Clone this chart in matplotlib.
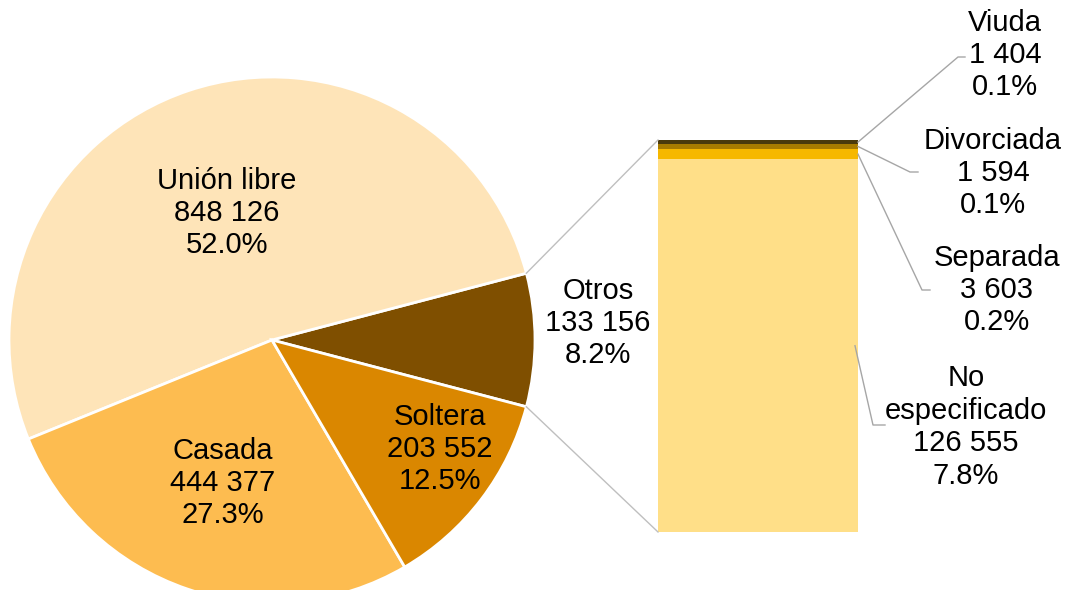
import matplotlib.pyplot as plt
import numpy as np

plt.rcParams['font.family'] = ['Liberation Sans', 'DejaVu Sans']

# pie data (counterclockwise from the right side)
pie_labels = ['Otros', 'Unión libre', 'Casada', 'Soltera']
pie_values = [133156, 848126, 444377, 203552]
pie_pct = ['8.2%', '52.0%', '27.3%', '12.5%']
pie_colors = ['#7f4f00', '#fee4b8', '#fdbc50', '#da8700']

# bar data (bottom to top), breakdown of "Otros"
bar_labels = ['No\nespecificado', 'Separada', 'Divorciada', 'Viuda']
bar_values = [126555, 3603, 1594, 1404]
bar_pct = ['7.8%', '0.2%', '0.1%', '0.1%']
bar_colors = ['#ffdf88', '#f6b800', '#a87c00', '#4a3a0c']


def fmt(v):
    return f'{v:,}'.replace(',', ' ')


fig = plt.figure(figsize=(10.65, 5.9), dpi=100)
ax = fig.add_axes([0, 0, 1, 1])

fs = 21
ls = 1.2
cx, cy, r = 272, 250, 263
start = -pie_values[0] / sum(pie_values) * 360 / 2
wedges, _ = ax.pie(pie_values, colors=pie_colors, startangle=start, counterclock=True,
                   center=(cx, cy), radius=r, frame=True,
                   wedgeprops=dict(edgecolor='white', linewidth=2))
ax.set_xlim(0, 1065)
ax.set_ylim(0, 590)
ax.set_aspect('equal')
ax.axis('off')

pie_text_pos = [(598, 267), (227, 377), (223, 107), (440, 141)]
for lab, v, p, pos in zip(pie_labels, pie_values, pie_pct, pie_text_pos):
    ax.text(pos[0], pos[1], f'{lab}\n{fmt(v)}\n{p}', ha='center', va='center',
            fontsize=fs, linespacing=ls)

# bar of "Otros"
bx, bw, b0, bh = 758, 200, 58, 392
scale = bh / sum(bar_values)
heights = np.array(bar_values) * scale
bottoms = b0 + np.concatenate([[0], np.cumsum(heights)[:-1]])
ax.bar(bx, heights, width=bw, bottom=bottoms, color=bar_colors, linewidth=0)

# connector lines from pie to bar
w = wedges[0]
a1, a2 = np.radians(w.theta1), np.radians(w.theta2)
ax.plot([cx + r * np.cos(a2), bx - bw / 2], [cy + r * np.sin(a2), b0 + bh],
        color='#bfbfbf', lw=1)
ax.plot([cx + r * np.cos(a1), bx - bw / 2], [cy + r * np.sin(a1), b0],
        color='#bfbfbf', lw=1)

# bar labels with leader lines
bar_text_pos = [(966, 163), (997, 300), (993, 417), (1005, 535)]
elbows = [(873, 165), (922, 300), (910, 418), (958, 533)]
ends = [(885, 165), (930, 300), (918, 418), (965, 533)]
for i, (lab, v, p) in enumerate(zip(bar_labels, bar_values, bar_pct)):
    ymid = bottoms[i] + heights[i] / 2
    xs = bx + bw / 2 if i > 0 else bx + bw / 2 - 3
    ax.plot([xs, elbows[i][0], ends[i][0]], [ymid, elbows[i][1], ends[i][1]],
            color='#a6a6a6', lw=1)
    ax.text(bar_text_pos[i][0], bar_text_pos[i][1], f'{lab}\n{fmt(v)}\n{p}',
            ha='center', va='center', fontsize=fs, linespacing=ls)

fig.savefig('out.png', dpi=100)
